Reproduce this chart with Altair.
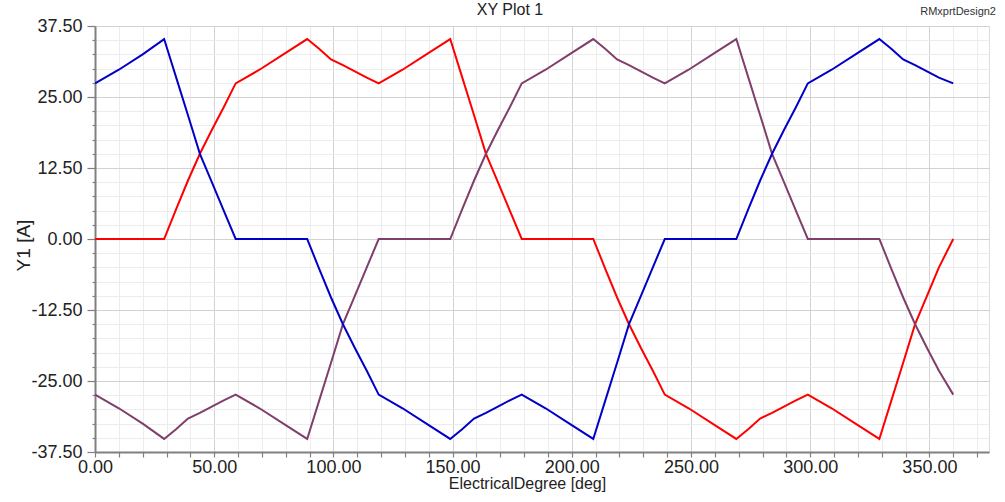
import altair as alt
import pandas as pd

# Electrical angle (deg) of each sample point
angles = [0, 10, 20, 29, 34, 39, 44, 49, 54, 59, 69, 79, 89, 94, 99, 104, 109, 114, 119,
          129, 139, 149, 154, 159, 164, 169, 174, 179, 189, 199, 209, 214, 219, 224, 229,
          234, 239, 249, 259, 269, 274, 279, 284, 289, 294, 299, 309, 319, 329, 334, 339,
          344, 349, 354, 360]

red = [0, 0, 0, 0,
       5.2, 10.3, 15.0, 19.2, 23.2, 27.4,
       29.8, 32.5, 35.2,
       33.5, 31.6, 30.6, 29.5, 28.4, 27.4,
       29.8, 32.5, 35.2,
       28.5, 21.8, 15.0, 10.0, 5.0, 0,
       0, 0, 0,
       -5.2, -10.3, -15.0, -19.2, -23.2, -27.4,
       -29.8, -32.5, -35.2,
       -33.5, -31.6, -30.6, -29.5, -28.4, -27.4,
       -29.8, -32.5, -35.2,
       -28.5, -21.8, -15.0, -10.0, -5.0, 0]

blue = [27.4, 29.8, 32.5, 35.2,
        28.5, 21.8, 15.0, 10.0, 5.0, 0,
        0, 0, 0,
        -5.2, -10.3, -15.0, -19.2, -23.2, -27.4,
        -29.8, -32.5, -35.2,
        -33.5, -31.6, -30.6, -29.5, -28.4, -27.4,
        -29.8, -32.5, -35.2,
        -28.5, -21.8, -15.0, -10.0, -5.0, 0,
        0, 0, 0,
        5.2, 10.3, 15.0, 19.2, 23.2, 27.4,
        29.8, 32.5, 35.2,
        33.5, 31.6, 30.6, 29.5, 28.4, 27.4]

purple = [-27.4, -29.8, -32.5, -35.2,
          -33.5, -31.6, -30.6, -29.5, -28.4, -27.4,
          -29.8, -32.5, -35.2,
          -28.5, -21.8, -15.0, -10.0, -5.0, 0,
          0, 0, 0,
          5.2, 10.3, 15.0, 19.2, 23.2, 27.4,
          29.8, 32.5, 35.2,
          33.5, 31.6, 30.6, 29.5, 28.4, 27.4,
          29.8, 32.5, 35.2,
          28.5, 21.8, 15.0, 10.0, 5.0, 0,
          0, 0, 0,
          -5.2, -10.3, -15.0, -19.2, -23.2, -27.4]

phase_names = ["PhaseA", "PhaseC", "PhaseB"]
phase_colors = ["#FF0000", "#7F3F6A", "#0000C8"]

x_ticks = [0, 10, 20, 30, 40, 50, 60, 70, 80, 90, 100, 110, 120, 130, 140, 150, 160, 170,
           180, 190, 200, 210, 220, 230, 240, 250, 260, 270, 280, 290, 300, 310, 320, 330,
           340, 350, 360, 370]
y_ticks = [-37.5, -35, -32.5, -30, -27.5, -25, -22.5, -20, -17.5, -15, -12.5, -10, -7.5,
           -5, -2.5, 0, 2.5, 5, 7.5, 10, 12.5, 15, 17.5, 20, 22.5, 25, 27.5, 30, 32.5, 35, 37.5]

rows = []
for name, vals in zip(phase_names, [red, purple, blue]):
    for a, v in zip(angles, vals):
        rows.append({"angle": a, "value": v, "phase": name})
df = pd.DataFrame(rows)

FONT = "Liberation Sans"
MINUS = "\u2212"

lines = alt.Chart(df).mark_line(strokeWidth=2, clip=True).encode(
    x=alt.X("angle:Q",
            scale=alt.Scale(domain=[0, 375], nice=False, zero=False),
            axis=alt.Axis(values=x_ticks,
                          labelExpr="datum.value % 50 === 0 ? format(datum.value, '.2f') : ''",
                          title="ElectricalDegree [deg]",
                          titleFontSize=16, titleFontWeight="normal", titleFont=FONT,
                          titleColor="#222222", titlePadding=-1, titleX=432,
                          labelFontSize=18, labelFont=FONT, labelColor="#222222",
                          labelFlush=False, labelOverlap=False, labelPadding=1,
                          tickSize=5, tickColor="#808080", tickWidth=1.2,
                          domainColor="#808080", domainWidth=2,
                          grid=True,
                          gridColor={"expr": "datum.value % 50 === 0 ? '#d2d2d2' : '#ececec'"},
                          gridWidth=1)),
    y=alt.Y("value:Q",
            scale=alt.Scale(domain=[-37.5, 37.5], nice=False, zero=False),
            axis=alt.Axis(values=y_ticks,
                          labelExpr="datum.value % 12.5 === 0 ? replace(format(datum.value, '.2f'), '" + MINUS + "', '-') : ''",
                          title="Y1 [A]",
                          titleFontSize=19, titleFontWeight="normal", titleFont=FONT,
                          titleColor="#222222", titlePadding=-3, titleY=219,
                          labelFontSize=18, labelFont=FONT, labelColor="#222222",
                          labelOverlap=False, labelPadding=5, labelFlush=False,
                          tickSize={"expr": "datum.value % 12.5 === 0 ? 8 : 3"},
                          tickColor="#808080", tickWidth=1.2,
                          domainColor="#808080", domainWidth=2,
                          grid=True,
                          gridColor={"expr": "datum.value % 12.5 === 0 ? '#d2d2d2' : '#ececec'"},
                          gridWidth=1)),
    color=alt.Color("phase:N", scale=alt.Scale(domain=phase_names, range=phase_colors),
                    legend=None),
)

design = alt.Chart(pd.DataFrame({"t": ["RMxprtDesign2"]})).mark_text(
    align="right", baseline="middle", fontSize=11, font=FONT, color="#333333"
).encode(text="t:N", x=alt.value(901), y=alt.value(-14))

plot_title = alt.Chart(pd.DataFrame({"t": ["XY Plot 1"]})).mark_text(
    align="center", baseline="middle", fontSize=16, font=FONT, color="#222222"
).encode(text="t:N", x=alt.value(415), y=alt.value(-16))

chart = alt.layer(lines, design, plot_title).properties(
    width=894, height=426,
    autosize=alt.AutoSizeParams(type="none"),
    padding={"left": 95, "top": 26, "right": 16, "bottom": 50},
).configure_view(stroke="#a0a0a0", strokeWidth=1.5).configure(background="white")

chart.save("out.html", embed_options={"renderer": "svg", "actions": False})
